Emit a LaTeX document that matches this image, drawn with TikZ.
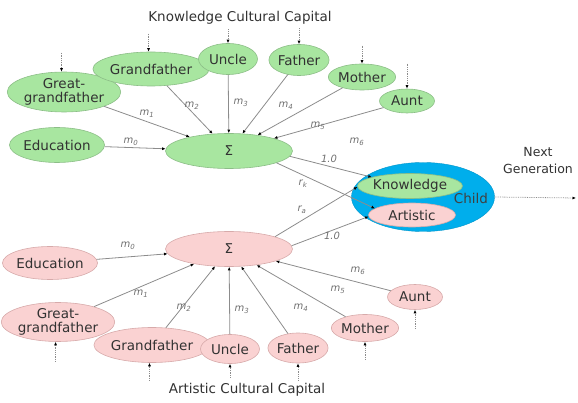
\documentclass[tikz,border=0pt]{standalone}
\usepackage{fontspec}
\setmainfont{DejaVu Sans}
\usetikzlibrary{shapes.geometric,arrows.meta,calc}
\definecolor{gfill}{RGB}{168,230,160}
\definecolor{gline}{RGB}{140,190,135}
\definecolor{pfill}{RGB}{250,210,210}
\definecolor{pline}{RGB}{215,170,170}
\definecolor{cblue}{RGB}{0,174,236}
\definecolor{txt}{RGB}{50,50,50}
\definecolor{eg}{RGB}{140,140,140}
\begin{document}
\begin{tikzpicture}[x=1pt,y=-1pt,
  every node/.style={font=\fontsize{13.5}{14}\selectfont, text=txt},
  base/.style={ellipse, draw, line width=0.6pt, inner sep=0pt, align=center},
  gnode/.style={base, fill=gfill, draw=gline},
  pnode/.style={base, fill=pfill, draw=pline},
  edge/.style={draw=eg, line width=0.8pt, -{Latex[length=3.5pt,width=3pt,color=black]}},
  inarr/.style={draw=eg, line width=0.8pt, densely dotted, -{Latex[length=3.5pt,width=3pt,color=black]}},
  lab/.style={font=\fontsize{10}{11}\selectfont\itshape, text=eg!80!black, inner sep=1pt},
  title/.style={font=\fontsize{13.5}{15}\selectfont, text=txt, align=center}]
\useasboundingbox (0,0) rectangle (578,403);

% ---------- Knowledge (top, green) ----------
\node[title] (ktitle) at (240,18) {Knowledge Cultural Capital};
\node[gnode, minimum width=108, minimum height=40, font=\fontsize{13.5}{14.5}\selectfont] (kgg) at (64,92) {Great-\\grandfather};
\node[gnode, minimum width=90, minimum height=34] (kgf) at (151,69) {Grandfather};
\node[gnode, minimum width=59, minimum height=31] (kun) at (228,59) {Uncle};
\node[gnode, minimum width=59, minimum height=31] (kfa) at (299,60) {Father};
\node[gnode, minimum width=60, minimum height=26] (kmo) at (362,77) {Mother};
\node[gnode, minimum width=55, minimum height=24] (kau) at (407,101) {Aunt};
\node[gnode, minimum width=87, minimum height=35] (ked) at (57,145) {Education};
\node[gnode, minimum width=127, minimum height=35] (ks) at (229,151) {Σ};

% ---------- Artistic (bottom, pink) ----------
\node[title] (ptitle) at (247,390) {Artistic Cultural Capital};
\node[pnode, minimum width=77, minimum height=33] (ped) at (50,263) {Education};
\node[pnode, minimum width=105, minimum height=39, font=\fontsize{13.5}{14.5}\selectfont] (pgg) at (58,322) {Great-\\grandfather};
\node[pnode, minimum width=90, minimum height=35] (pgf) at (152,345) {Grandfather};
\node[pnode, minimum width=59, minimum height=29] (pun) at (230,349) {Uncle};
\node[pnode, minimum width=59, minimum height=30] (pfa) at (298,348) {Father};
\node[pnode, minimum width=61, minimum height=27] (pmo) at (365,328) {Mother};
\node[pnode, minimum width=55, minimum height=25] (pau) at (415,297) {Aunt};
\node[pnode, minimum width=127, minimum height=35] (ps) at (229,249) {Σ};

% ---------- Child ----------
\node[ellipse, fill=cblue, draw=cblue!85!black, line width=0.4pt, minimum width=143, minimum height=69, inner sep=0pt] (child) at (423,197) {};
\node[text=black!75] (childlbl) at (471,198) {Child};
\node[gnode, minimum width=91, minimum height=25] (know) at (410,186) {Knowledge};
\node[pnode, minimum width=87, minimum height=24] (art) at (412,215) {Artistic};
\node[title, align=center, font=\fontsize{12.5}{17}\selectfont] (nextgen) at (538,161) {Next\\Generation};
\coordinate (ngend) at (576,198);

% ---------- input (dotted) arrows ----------
\coordinate (ikgg) at ($(kgg.97)+(0,-19)$);
\coordinate (ikgf) at ($(kgf.98)+(0,-18)$);
\coordinate (ikun) at ($(kun.north)+(0,-14)$);
\coordinate (ikfa) at ($(kfa.north)+(0,-16)$);
\coordinate (ikmo) at ($(kmo.north)+(0,-18)$);
\coordinate (ikau) at ($(kau.north)+(0,-25)$);
\draw[inarr] (ikgg) -- (kgg.97);
\draw[inarr] (ikgf) -- (kgf.98);
\draw[inarr] (ikun) -- (kun.north);
\draw[inarr] (ikfa) -- (kfa.north);
\draw[inarr] (ikmo) -- (kmo.north);
\draw[inarr] (ikau) -- (kau.north);

\coordinate (ipgg) at ($(pgg.263)+(0,20)$);
\coordinate (ipgf) at ($(pgf.262)+(0,18)$);
\coordinate (ipun) at ($(pun.south)+(0,14)$);
\coordinate (ipfa) at ($(pfa.south)+(0,17)$);
\coordinate (ipmo) at ($(pmo.south)+(0,18)$);
\coordinate (ipau) at ($(pau.south)+(0,19)$);
\draw[inarr] (ipgg) -- (pgg.263);
\draw[inarr] (ipgf) -- (pgf.262);
\draw[inarr] (ipun) -- (pun.south);
\draw[inarr] (ipfa) -- (pfa.south);
\draw[inarr] (ipmo) -- (pmo.south);
\draw[inarr] (ipau) -- (pau.south);

\draw[inarr] (child.east) -- (ngend);

% ---------- weighted edges ----------
\draw[edge] (ked) -- (ks);
\draw[edge] (kgg) -- (ks);
\draw[edge] (kgf) -- (ks);
\draw[edge] (kun) -- (ks);
\draw[edge] (kfa) -- (ks);
\draw[edge] (kmo) -- (ks);
\draw[edge] (kau) -- (ks);

\draw[edge] (ped) -- (ps);
\draw[edge] (pgg) -- (ps);
\draw[edge] (pgf) -- (ps);
\draw[edge] (pun) -- (ps);
\draw[edge] (pfa) -- (ps);
\draw[edge] (pmo) -- (ps);
\draw[edge] (pau) -- (ps);

\draw[edge] (ks.-5) -- (know.167);
\draw[edge] (ks.-14) -- (art.170);
\draw[edge] (ps.15) -- (know.181);
\draw[edge] (ps.3) -- (art.182);

% ---------- labels ----------
\node[lab] (lk0) at (131,142) {m\textsubscript{0}};
\node[lab] (lk1) at (147,114) {m\textsubscript{1}};
\node[lab] (lk2) at (192,106) {m\textsubscript{2}};
\node[lab] (lk3) at (241,103) {m\textsubscript{3}};
\node[lab] (lk4) at (286,106) {m\textsubscript{4}};
\node[lab] (lk5) at (318,126) {m\textsubscript{5}};
\node[lab] (lk6) at (357,142) {m\textsubscript{6}};
\node[lab] (lk10) at (329,159) {1.0};
\node[lab] (lrk) at (303,184) {r\textsubscript{k}};

\node[lab] (lp0) at (128,246) {m\textsubscript{0}};
\node[lab] (lp1) at (141,294) {m\textsubscript{1}};
\node[lab] (lp2) at (184,308) {m\textsubscript{2}};
\node[lab] (lp3) at (242,310) {m\textsubscript{3}};
\node[lab] (lp4) at (301,308) {m\textsubscript{4}};
\node[lab] (lp5) at (338,290) {m\textsubscript{5}};
\node[lab] (lp6) at (358,271) {m\textsubscript{6}};
\node[lab] (lp10) at (332,236) {1.0};
\node[lab] (lra) at (302,210) {r\textsubscript{a}};
\end{tikzpicture}
\end{document}
